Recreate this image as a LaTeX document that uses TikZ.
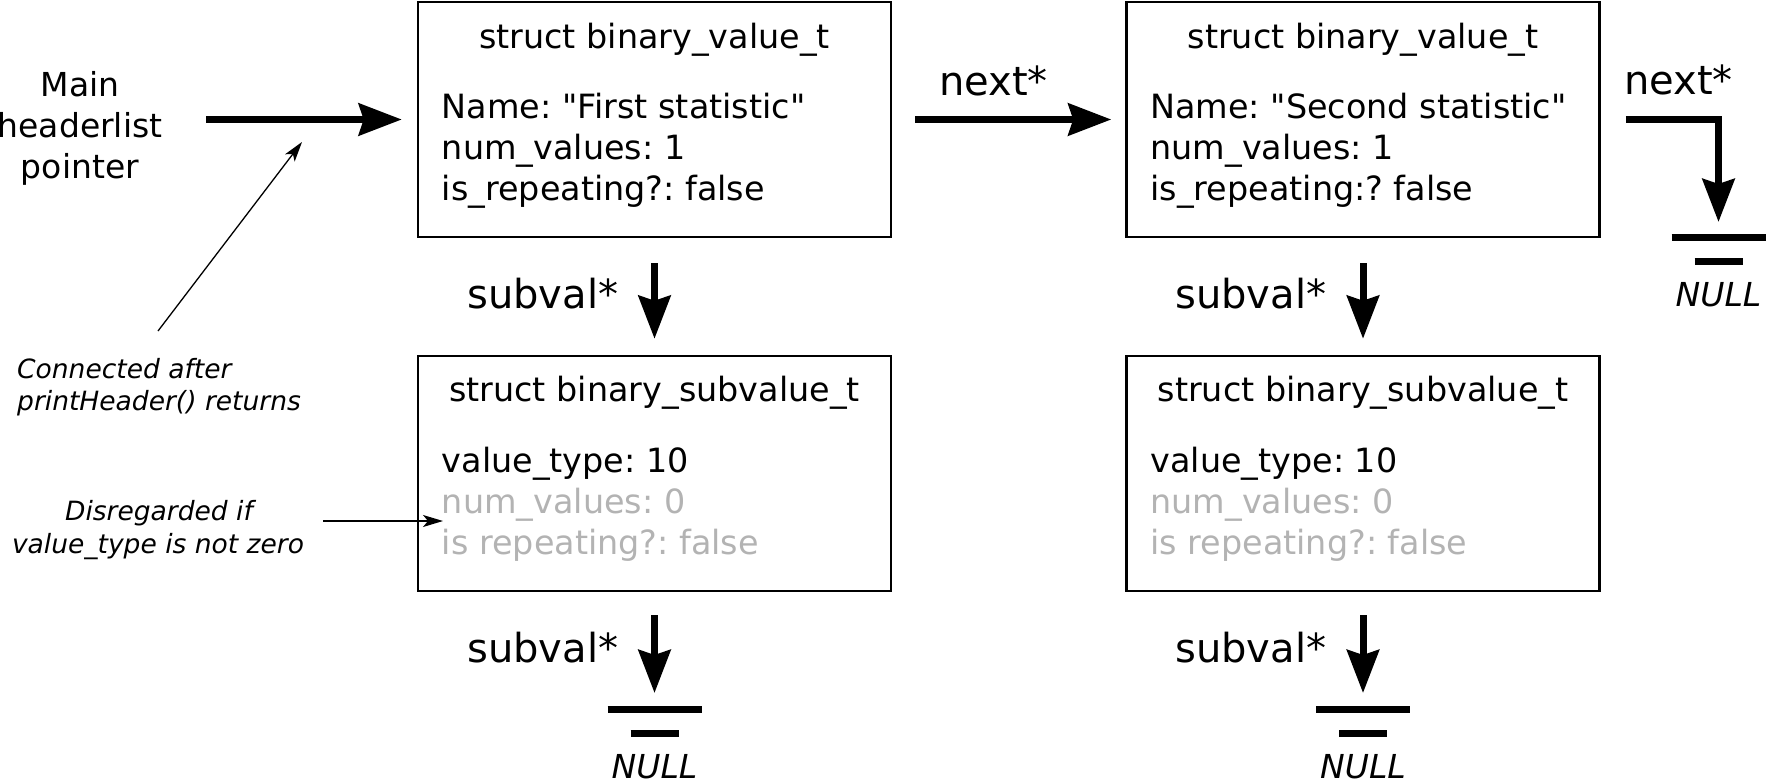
\documentclass[tikz,border=0pt]{standalone}
\usepackage{fontspec}
\setmainfont{DejaVu Sans}[Ligatures=TeXOff]
\usetikzlibrary{arrows.meta,calc}
\definecolor{faded}{RGB}{179,179,179}
\frenchspacing

\begin{document}
\begin{tikzpicture}[x=1pt,y=-1pt,
  structbox/.style={draw, line width=2.5pt, minimum width=473pt, minimum height=235pt, inner sep=0pt},
  field/.style={font=\fontsize{33.4}{41}\selectfont, inner sep=0pt, anchor=base west},
  title/.style={font=\fontsize{33.4}{41}\selectfont, inner sep=0pt, anchor=base},
  ptrlabel/.style={font=\fontsize{40}{48}\selectfont, inner sep=0pt, anchor=base west},
  maintext/.style={font=\fontsize{33}{40}\selectfont, inner sep=0pt, anchor=base},
  note/.style={font=\fontsize{26.5}{32}\selectfont\itshape, inner sep=0pt},
  nulltext/.style={font=\fontsize{33}{40}\selectfont\itshape, inner sep=0pt, anchor=base},
  link/.style={line width=7pt, -{Stealth[length=43pt,width=32pt,inset=5pt]}},
  hint/.style={line width=1.3pt, -{Stealth[length=20pt,width=12pt,inset=5pt]}},
  gbar/.style={line width=7pt},
]
\useasboundingbox (0,0) rectangle (1768,781);

% --- struct boxes ---
\node[structbox] (v1) at (654.5,119.5) {};
\node[structbox] (v2) at (1363,119.5) {};
\node[structbox] (s1) at (654.5,473.5) {};
\node[structbox] (s2) at (1363,473.5) {};

% binary_value_t #1
\node[title] (v1t) at ($(v1.north)+(0,48)$) {struct binary\_value\_t};
\node[field] (v1a) at ($(v1.north west)+(25,118)$) {Name: "First statistic"};
\node[field] (v1b) at ($(v1.north west)+(25,159)$) {num\_values: 1};
\node[field] (v1c) at ($(v1.north west)+(25,200)$) {is\_repeating?: false};

% binary_value_t #2
\node[title] (v2t) at ($(v2.north)+(0,48)$) {struct binary\_value\_t};
\node[field] (v2a) at ($(v2.north west)+(25,118)$) {Name: "Second statistic"};
\node[field] (v2b) at ($(v2.north west)+(25,159)$) {num\_values: 1};
\node[field] (v2c) at ($(v2.north west)+(25,200)$) {is\_repeating:? false};

% binary_subvalue_t #1
\node[title] (s1t) at ($(s1.north)+(0,47)$) {struct binary\_subvalue\_t};
\node[field] (s1a) at ($(s1.north west)+(25,118)$) {value\_type: 10};
\node[field, text=faded] (s1b) at ($(s1.north west)+(25,159)$) {num\_values: 0};
\node[field, text=faded] (s1c) at ($(s1.north west)+(25,200)$) {is repeating?: false};

% binary_subvalue_t #2
\node[title] (s2t) at ($(s2.north)+(0,47)$) {struct binary\_subvalue\_t};
\node[field] (s2a) at ($(s2.north west)+(25,118)$) {value\_type: 10};
\node[field, text=faded] (s2b) at ($(s2.north west)+(25,159)$) {num\_values: 0};
\node[field, text=faded] (s2c) at ($(s2.north west)+(25,200)$) {is repeating?: false};

% --- head pointer ---
\node[maintext] (mainA) at (80,97) {Main};
\node[maintext] (mainB) at (80,138) {headerlist};
\node[maintext] (mainC) at (80,178) {pointer};
\coordinate (mainfrom) at (206,119.5);
\draw[link, shorten >=15pt] (mainfrom) -- (v1.west);

% --- next pointers ---
\node[ptrlabel] (nx1) at (939,96) {next*};
\draw[link, shorten <=23pt, shorten >=14pt] (v1.east) -- (v2.west);
\node[ptrlabel] (nx2) at (1624,95) {next*};
\coordinate (g3) at (1718.5,237);
\draw[link, shorten <=25pt, shorten >=15pt] (v2.east) -| (g3);

% --- subval pointers ---
\node[ptrlabel] (sv1) at (467,308) {subval*};
\node[ptrlabel] (sv2) at (1175,308) {subval*};
\node[ptrlabel] (sv3) at (467,662) {subval*};
\node[ptrlabel] (sv4) at (1175,662) {subval*};
\draw[link, shorten <=25pt, shorten >=16pt] (v1.south) -- (s1.north);
\draw[link, shorten <=25pt, shorten >=16pt] (v2.south) -- (s2.north);
\coordinate (g1) at (654.5,709);
\coordinate (g2) at (1363,709);
\draw[link, shorten <=23pt, shorten >=16pt] (s1.south) -- (g1);
\draw[link, shorten <=23pt, shorten >=16pt] (s2.south) -- (g2);

% --- NULL terminators ---
\foreach \g/\n in {g1/null1, g2/null2, g3/null3} {
  \draw[gbar] ($(\g)+(-47,0)$) -- ($(\g)+(47,0)$);
  \draw[gbar] ($(\g)+(-24,24)$) -- ($(\g)+(24,24)$);
  \node[nulltext] (\n) at ($(\g)+(0,69.5)$) {NULL};
}

% --- annotations ---
\node[note, anchor=base west] (connA) at (17,378) {Connected after};
\node[note, anchor=base west] (connB) at (17,410) {printHeader() returns};
\coordinate (c1) at (158,331);
\coordinate (c2) at (302,142);
\draw[hint] (c1) -- (c2);

\node[note, anchor=base] (disA) at (159,520) {Disregarded if};
\node[note, anchor=base] (disB) at (158,553) {value\_type is not zero};
\coordinate (d1) at (323,521);
\coordinate (d2) at (443,521);
\draw[hint] (d1) -- (d2);
\end{tikzpicture}
\end{document}
